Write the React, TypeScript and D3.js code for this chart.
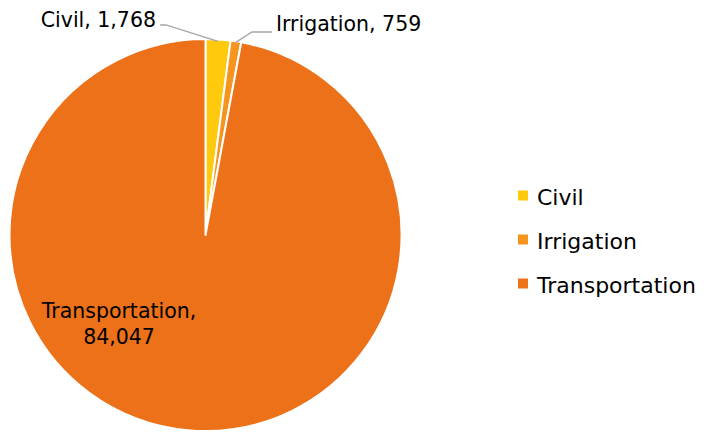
import React from "react";
import * as d3 from "d3";

const categories = ["Civil", "Irrigation", "Transportation"];
const values = [1768, 759, 84047];
const colors = ["#FFC90E", "#F7941D", "#EC7118"];

const W = 715;
const H = 432;
const cx = 205.5;
const cy = 235;
const R = 196;
const FONT = "'DejaVu Sans', sans-serif";

export default function App() {
  const data = categories.map((c, i) => ({ c, v: values[i], color: colors[i] }));
  const pie = d3.pie<any>().value((d) => d.v).sort(null).startAngle(0);
  const arcs = pie(data);
  const arc = d3.arc<any>().innerRadius(0).outerRadius(R);
  const fmt = d3.format(",");

  const civilA = (arcs[0].startAngle + arcs[0].endAngle) / 2;
  const irrA = (arcs[1].startAngle + arcs[1].endAngle) / 2;
  const pt = (a: number, r: number) => [cx + r * Math.sin(a), cy - r * Math.cos(a)];
  const civilEnd = pt(civilA, R - 2);
  const irrEnd = pt(irrA, R - 1);

  return (
    <svg width={W} height={H} style={{ position: "absolute", left: 0, top: 0, background: "#fff" }}>
      <g transform={`translate(${cx},${cy})`}>
        {arcs.map((a, i) => (
          <path key={i} d={arc(a) as string} fill={a.data.color} stroke="#fff" strokeWidth={2} strokeLinejoin="round" />
        ))}
      </g>
      <polyline
        points={`160,25 166,25 ${civilEnd[0]},${civilEnd[1]}`}
        fill="none"
        stroke="#A6A6A6"
        strokeWidth={1.3}
      />
      <polyline
        points={`${irrEnd[0]},${irrEnd[1]} 252,32 272,32`}
        fill="none"
        stroke="#A6A6A6"
        strokeWidth={1.3}
      />
      <text x={156} y={27} textAnchor="end" fontFamily={FONT} fontSize={20.5} fill="#000">
        {`${categories[0]}, ${fmt(values[0])}`}
      </text>
      <text x={276} y={31} textAnchor="start" fontFamily={FONT} fontSize={20.5} fill="#000">
        {`${categories[1]}, ${fmt(values[1])}`}
      </text>
      <text x={119} y={318} textAnchor="middle" fontFamily={FONT} fontSize={20.5} fill="#000">
        <tspan x={119}>{`${categories[2]},`}</tspan>
        <tspan x={119} dy={26}>{fmt(values[2])}</tspan>
      </text>
      {categories.map((c, i) => (
        <g key={c} transform={`translate(518,${190.5 + i * 44})`}>
          <rect width={10} height={10} fill={colors[i]} />
          <text x={19} y={14.5} fontFamily={FONT} fontSize={22} fill="#000">
            {c}
          </text>
        </g>
      ))}
    </svg>
  );
}
